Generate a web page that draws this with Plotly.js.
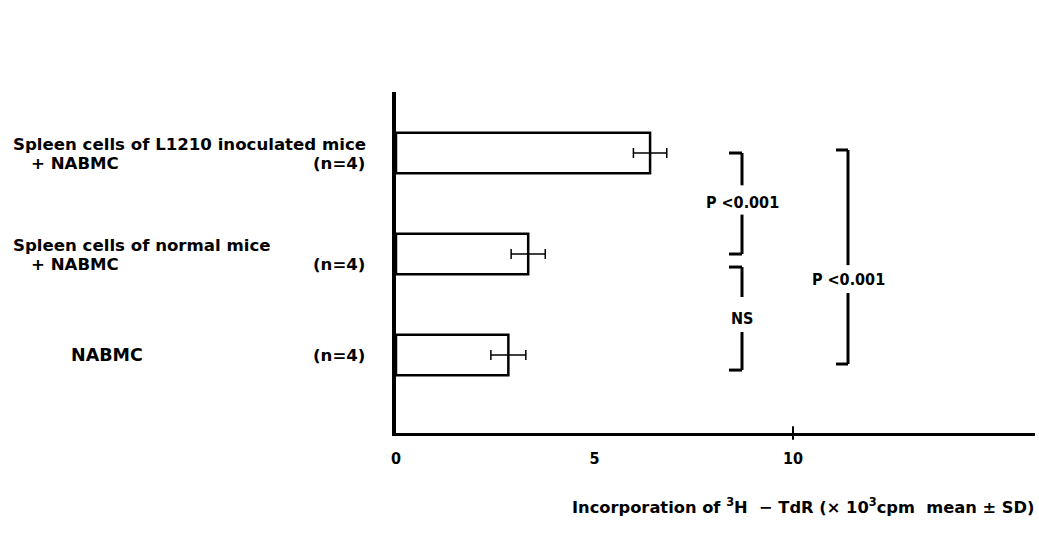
<!DOCTYPE html>
<html>
<head>
<meta charset="utf-8">
<script src="https://cdn.plot.ly/plotly-3.0.1.min.js"></script>
<style>
  html, body { margin: 0; padding: 0; background: #fff; }
  #chart { width: 1039px; height: 535px; }
</style>
</head>
<body>
<div id="chart"></div>
<script>
// ---- data ----
const categories = ["NABMC", "Spleen normal + NABMC", "Spleen L1210 + NABMC"];
const meanValues = [2.83, 3.33, 6.40];
const sdValues = [0.44, 0.43, 0.42];
const sampleSizes = ["(n=4)", "(n=4)", "(n=4)"];
const labelLine1 = ["NABMC", "Spleen cells of normal mice", "Spleen cells of L1210 inoculated mice"];
const labelLine2 = ["", "+ NABMC", "+ NABMC"];
const tickVals = [0, 5, 10];
const tickText = ["0", "5", "10"];
const comparisons = [
  { from: 2, to: 1, label: "P &lt;0.001" },
  { from: 1, to: 0, label: "NS" },
  { from: 2, to: 0, label: "P &lt;0.001" }
];

// ---- layout geometry ----
const FIG_W = 1039, FIG_H = 535;
const L = 396, T = 92, R = 4, B = 102;
const W = FIG_W - L - R, H = FIG_H - T - B;
const XMAX = (1035 - L) / 39.7;
const pxToX = p => (p - L) / W * XMAX;   // pixel -> data x
const pxToPaperX = p => (p - L) / W;
const pxToPaperY = p => (FIG_H - B - p) / H;

const boldFont = "DejaVu Sans, sans-serif";
const narrowFont = "Liberation Sans Narrow, DejaVu Sans Condensed, Liberation Sans, sans-serif";

const trace = {
  type: "bar",
  orientation: "h",
  x: meanValues,
  y: categories,
  width: 0.4,
  marker: { color: "#ffffff", line: { color: "#000000", width: 2.5 } },
  error_x: { type: "data", array: sdValues, visible: true, color: "#000000", thickness: 1.5, width: 5 },
  hoverinfo: "none"
};

const annotations = [];
const labelStyle = { family: boldFont, size: 16.6, color: "#000", weight: "bold" };
// category labels
categories.forEach((c, i) => {
  if (labelLine2[i]) {
    annotations.push({ xref: "paper", yref: "y", x: pxToPaperX(11), y: i, yshift: 9,
      xanchor: "left", yanchor: "middle", text: labelLine1[i], showarrow: false, font: labelStyle });
    annotations.push({ xref: "paper", yref: "y", x: pxToPaperX(29), y: i, yshift: -10,
      xanchor: "left", yanchor: "middle", text: labelLine2[i], showarrow: false, font: labelStyle });
    annotations.push({ xref: "paper", yref: "y", x: pxToPaperX(367), y: i, yshift: -10,
      xanchor: "right", yanchor: "middle", text: sampleSizes[i], showarrow: false, font: labelStyle });
  } else {
    annotations.push({ xref: "paper", yref: "y", x: pxToPaperX(69), y: i,
      xanchor: "left", yanchor: "middle", text: labelLine1[i], showarrow: false,
      font: Object.assign({}, labelStyle, { size: 17.5 }) });
    annotations.push({ xref: "paper", yref: "y", x: pxToPaperX(367), y: i,
      xanchor: "right", yanchor: "middle", text: sampleSizes[i], showarrow: false, font: labelStyle });
  }
});

// comparison brackets (shapes + label)
const bracketGeom = [
  { xv: 742, xt: 729, top: 2.0, bot: 1.0, gapTop: 1.68, gapBot: 1.39, ty: 1.51 },
  { xv: 742, xt: 729, top: 0.871, bot: -0.149, gapTop: 0.574, gapBot: 0.228, ty: 0.366 },
  { xv: 848, xt: 836, top: 2.03, bot: -0.089, gapTop: 0.89, gapBot: 0.614, ty: 0.752 }
];
const shapes = [];
const bline = { color: "#000", width: 3 };
comparisons.forEach((cmp, k) => {
  const g = bracketGeom[k];
  const xv = pxToX(g.xv), xt = pxToX(g.xt);
  shapes.push({ type: "line", xref: "x", yref: "y", x0: xt, x1: xv, y0: g.top, y1: g.top, line: bline });
  shapes.push({ type: "line", xref: "x", yref: "y", x0: xv, x1: xv, y0: g.top, y1: g.gapTop, line: bline });
  shapes.push({ type: "line", xref: "x", yref: "y", x0: xv, x1: xv, y0: g.gapBot, y1: g.bot, line: bline });
  shapes.push({ type: "line", xref: "x", yref: "y", x0: xt, x1: xv, y0: g.bot, y1: g.bot, line: bline });
  annotations.push({ xref: "x", yref: "y", x: xv, y: g.ty, xanchor: "center", yanchor: "middle",
    text: cmp.label, showarrow: false, font: { family: narrowFont, size: 16, color: "#000", weight: "bold" } });
});

// tick mark at 10 crossing the axis
shapes.push({ type: "line", xref: "x", yref: "paper", x0: tickVals[2], x1: tickVals[2],
  y0: -0.02, y1: 0.02, line: { color: "#000", width: 2 } });

// x-axis title (right aligned)
annotations.push({ xref: "paper", yref: "paper", x: pxToPaperX(1037), y: pxToPaperY(506),
  xanchor: "right", yanchor: "middle", showarrow: false,
  text: "Incorporation of <sup>3</sup>H  − TdR (× 10<sup>3</sup>cpm  mean ± SD)",
  font: { family: boldFont, size: 16.3, color: "#000", weight: "bold" } });

const layout = {
  width: FIG_W, height: FIG_H,
  margin: { l: L, r: R, t: T, b: B, pad: 0 },
  paper_bgcolor: "#fff", plot_bgcolor: "#fff",
  showlegend: false,
  bargap: 0.6,
  xaxis: {
    range: [0, XMAX], showgrid: false, zeroline: false,
    showline: true, linecolor: "#000", linewidth: 3,
    tickmode: "array", tickvals: tickVals, ticktext: tickText, ticks: "",
    ticklabelstandoff: 9,
    tickfont: { family: narrowFont, size: 16, color: "#000", weight: "bold" },
    fixedrange: true
  },
  yaxis: {
    type: "category", categoryorder: "array", categoryarray: categories,
    range: [-0.772, 2.604], showgrid: false, zeroline: false,
    showline: true, linecolor: "#000", linewidth: 4,
    showticklabels: false, ticks: "", fixedrange: true
  },
  shapes: shapes,
  annotations: annotations
};

Plotly.newPlot("chart", [trace], layout, { displayModeBar: false, staticPlot: true });
</script>
</body>
</html>
